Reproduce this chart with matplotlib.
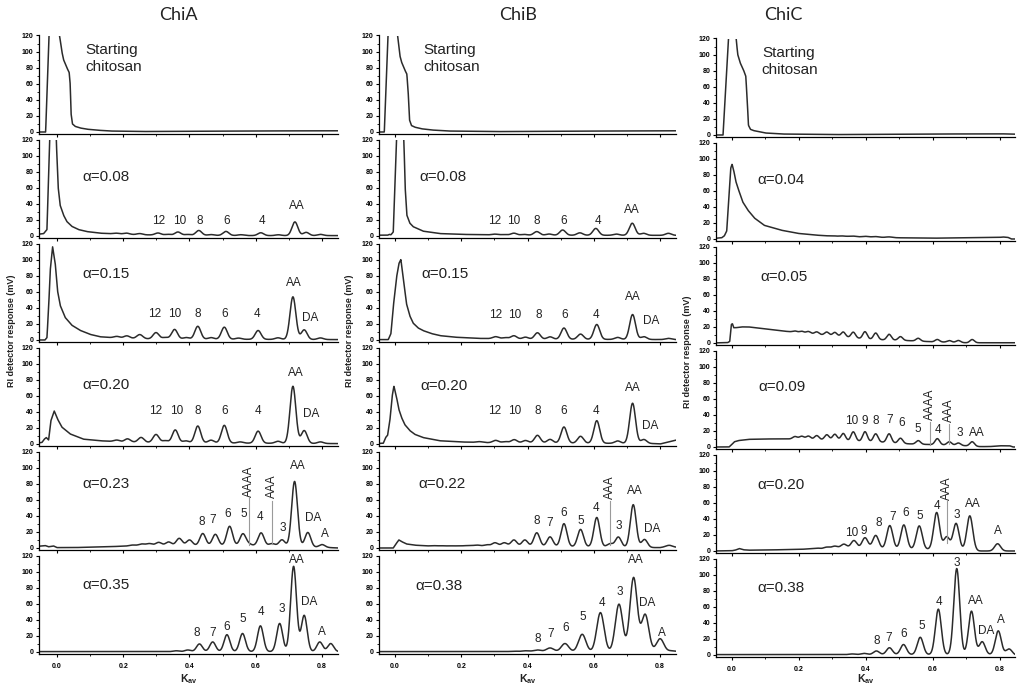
import numpy as np
import matplotlib.pyplot as plt
from matplotlib.ticker import MultipleLocator

plt.rcParams['font.family'] = ['Liberation Sans', 'DejaVu Sans']
plt.rcParams['mathtext.default'] = 'regular'

# ---------------- ChiA ----------------
# starting chitosan
a1_base_k = [-0.06, -0.034, -0.022, -0.012, 0.008, 0.015, 0.02, 0.03, 0.037, 0.04, 0.043, 0.047,
             0.055, 0.07, 0.09, 0.12, 0.16, 0.25, 0.4, 0.6, 0.85]
a1_base_y = [0, 0, 140, 170, 120, 100, 90, 80, 74, 60, 22, 10, 7, 5, 3.5, 2.3, 1.2, 0.6, 0.8, 1.3, 1.5]
a1_pk_k = []
a1_pk_h = []
a1_labels = []
a1_marks = []

# alpha = 0.08
a2_base_k = [-0.06, -0.04, -0.03, -0.012, -0.002, 0.004, 0.01, 0.02, 0.03, 0.045, 0.065, 0.09,
             0.13, 0.18, 0.25, 0.35, 0.6, 0.85]
a2_base_y = [2, 3, 8, 250, 120, 60, 38, 26, 18, 12, 8, 5.5, 3.5, 2.5, 1.5, 1.0, 0.5, 0.5]
a2_pk_k = [0.18, 0.21, 0.25, 0.305, 0.335, 0.365, 0.395, 0.428, 0.465, 0.51, 0.555, 0.615, 0.668,
           0.718, 0.752, 0.795]
a2_pk_h = [1, 1.5, 1.5, 2.5, 1, 4, 1, 6, 1, 5, 1, 3.5, 1, 17, 4, 1.5]
a2_labels = [("12", 0.307, 19), ("10", 0.369, 19), ("8", 0.43, 19), ("6", 0.511, 19),
             ("4", 0.619, 19), ("AA", 0.723, 37.5)]
a2_marks = []

# alpha = 0.15
a3_base_k = [-0.06, -0.036, -0.03, -0.025, -0.02, -0.013, -0.005, 0.002, 0.01, 0.025, 0.045, 0.07,
             0.1, 0.13, 0.18, 0.3, 0.6, 0.85]
a3_base_y = [0, 0, 3, 40, 87, 116, 95, 61, 43, 28, 18.4, 12, 7, 4, 2.5, 1.2, 0.8, 0.5]
a3_pk_k = [0.181, 0.211, 0.25, 0.299, 0.327, 0.355, 0.39, 0.425, 0.465, 0.505, 0.548, 0.607, 0.667,
           0.712, 0.746, 0.795]
a3_pk_h = [2, 3, 5, 8, 2, 12, 2, 16, 2, 15, 1.5, 11, 2, 53, 12, 2]
a3_labels = [("12", 0.294, 32), ("10", 0.354, 32), ("8", 0.425, 32), ("6", 0.505, 32),
             ("4", 0.604, 32), ("AA", 0.714, 71), ("DA", 0.765, 27)]
a3_marks = []

# alpha = 0.20
a4_base_k = [-0.06, -0.045, -0.038, -0.032, -0.025, -0.018, -0.008, 0.002, 0.015, 0.04, 0.08, 0.13,
             0.2, 0.35, 0.6, 0.85]
a4_base_y = [1, 2, 6, 8, 5, 29, 41, 31, 21, 12.5, 6, 4, 2.5, 1.5, 1, 0.5]
a4_pk_k = [0.181, 0.213, 0.254, 0.299, 0.327, 0.357, 0.389, 0.425, 0.465, 0.505, 0.553, 0.607, 0.667,
           0.712, 0.746, 0.795]
a4_pk_h = [2, 4, 6, 10, 2.5, 16, 2.5, 21, 3.5, 22, 1.5, 15, 2.5, 71, 16, 2]
a4_labels = [("12", 0.299, 41), ("10", 0.362, 41), ("8", 0.425, 41), ("6", 0.505, 41),
             ("4", 0.607, 41), ("AA", 0.722, 88), ("DA", 0.767, 37)]
a4_marks = []

# alpha = 0.23
a5_base_k = [-0.06, -0.035, -0.025, -0.01, 0.0, 0.05, 0.15, 0.25, 0.35, 0.5, 0.6, 0.7, 0.78, 0.82, 0.85]
a5_base_y = [2, 3, 1.5, 2.5, 0.5, 0.5, 1.5, 3, 3, 3, 3, 2, 1, 0.5, 0]
a5_pk_k = [0.228, 0.256, 0.279, 0.307, 0.337, 0.369, 0.4, 0.44, 0.478, 0.521, 0.561, 0.578, 0.616,
           0.649, 0.679, 0.717, 0.757, 0.8]
a5_pk_h = [1, 2, 2.5, 4, 4.5, 9, 7, 15, 14, 24, 14.5, 2, 16, 3, 8, 81, 18, 3.5]
a5_labels = [("8", 0.436, 32), ("7", 0.471, 35), ("6", 0.516, 42), ("5", 0.563, 42), ("4", 0.612, 39),
             ("3", 0.681, 25), ("AA", 0.727, 102), ("DA", 0.772, 37), ("A", 0.807, 18)]
a5_marks = [("AAAA", 0.579, 4, 62, 64), ("AAA", 0.65, 5, 59, 62)]

# alpha = 0.35
a6_base_k = [-0.06, 0.85]
a6_base_y = [0.5, 0.5]
a6_pk_k = [0.36, 0.395, 0.43, 0.47, 0.513, 0.56, 0.614, 0.672, 0.714, 0.746, 0.793, 0.826]
a6_pk_h = [1, 2, 9.5, 12, 21, 22.5, 32, 35, 106, 45, 12, 10]
a6_labels = [("8", 0.423, 23), ("7", 0.47, 24), ("6", 0.513, 31), ("5", 0.56, 41), ("4", 0.617, 50),
             ("3", 0.679, 54), ("AA", 0.724, 115), ("DA", 0.761, 62.5), ("A", 0.8, 25)]
a6_marks = []

# ---------------- ChiB ----------------
b1_base_k = [-0.06, -0.032, -0.018, -0.005, 0.008, 0.015, 0.02, 0.03, 0.036, 0.04, 0.044, 0.05,
             0.06, 0.08, 0.11, 0.16, 0.3, 0.5, 0.85]
b1_base_y = [0, 0, 150, 165, 120, 95, 87, 77, 72, 50, 15, 8, 6, 4, 2.5, 1.2, 0.5, 1, 1.5]
b1_pk_k = []
b1_pk_h = []
b1_labels = []
b1_marks = []

b2_base_k = [-0.06, -0.022, -0.017, -0.012, -0.005, 0.016, 0.027, 0.031, 0.036, 0.045, 0.055, 0.085,
             0.135, 0.2, 0.35, 0.85]
b2_base_y = [1, 1, 2, 1.5, 5, 250, 120, 60, 26, 16, 11.6, 6, 3, 2, 1, 0.8]
b2_pk_k = [0.302, 0.33, 0.359, 0.39, 0.428, 0.465, 0.506, 0.558, 0.606, 0.668, 0.716, 0.75, 0.825]
b2_pk_h = [1, 0.8, 2.5, 1, 4.5, 1.5, 6.5, 3, 8.5, 1.5, 15, 2.5, 2.5]
b2_labels = [("12", 0.3, 19), ("10", 0.359, 19), ("8", 0.428, 19), ("6", 0.508, 19),
             ("4", 0.612, 19), ("AA", 0.714, 32)]
b2_marks = []

b3_base_k = [-0.06, -0.02, -0.012, -0.005, 0.005, 0.012, 0.018, 0.025, 0.035, 0.045, 0.055, 0.07,
             0.085, 0.11, 0.136, 0.18, 0.25, 0.4, 0.85]
b3_base_y = [0.5, 0.5, 8, 41, 78, 95, 100, 78, 45, 30, 21, 15, 11.7, 8, 5.4, 3.5, 2, 1, 0.5]
b3_pk_k = [0.304, 0.333, 0.359, 0.394, 0.43, 0.468, 0.51, 0.56, 0.609, 0.672, 0.717, 0.751, 0.825]
b3_pk_h = [2.5, 1.5, 4, 2.5, 8, 3, 14, 6.5, 18.5, 2.5, 31, 3.5, 1.5]
b3_labels = [("12", 0.304, 31.7), ("10", 0.362, 31.7), ("8", 0.433, 31.7), ("6", 0.511, 31.7),
             ("4", 0.606, 31.7), ("AA", 0.719, 53), ("DA", 0.773, 24)]
b3_marks = []

b4_base_k = [-0.06, -0.035, -0.028, -0.022, -0.015, -0.008, -0.003, 0.005, 0.012, 0.02, 0.03, 0.045,
             0.06, 0.085, 0.135, 0.2, 0.3, 0.6, 0.78, 0.8, 0.83, 0.85]
b4_base_y = [0.5, 1, 8, 11, 30, 60, 72, 58, 43, 33, 24, 16.7, 12, 8, 4, 2.5, 1.5, 1, 0.5, 0, 3, 5]
b4_pk_k = [0.255, 0.304, 0.333, 0.36, 0.394, 0.43, 0.468, 0.51, 0.56, 0.609, 0.672, 0.717, 0.751]
b4_pk_h = [1, 3, 1.5, 4, 3, 9.5, 4.5, 20, 8.5, 28, 3, 50, 5]
b4_labels = [("12", 0.302, 41), ("10", 0.36, 41), ("8", 0.43, 41), ("6", 0.51, 41),
             ("4", 0.606, 41), ("AA", 0.719, 70), ("DA", 0.77, 22)]
b4_marks = []

b5_base_k = [-0.06, -0.005, 0.003, 0.012, 0.02, 0.035, 0.06, 0.1, 0.2, 0.4, 0.6, 0.7, 0.77, 0.8, 0.83, 0.85]
b5_base_y = [0, 0, 5, 10, 8, 5, 3.5, 2.5, 2, 2, 1.5, 1, 0.5, 0.5, 2, 1]
b5_pk_k = [0.115, 0.14, 0.165, 0.186, 0.21, 0.23, 0.25, 0.277, 0.302, 0.33, 0.359, 0.392, 0.428, 0.468,
           0.51, 0.56, 0.609, 0.649, 0.674, 0.719, 0.753, 0.825]
b5_pk_h = [0.5, 0.5, 0.5, 0.5, 0.8, 1, 1.5, 2, 4.5, 4.5, 8, 8, 17, 12, 28.5, 21.5, 36.5, 4, 12.5, 53, 10, 1.5]
b5_labels = [("8", 0.428, 33), ("7", 0.466, 31), ("6", 0.51, 44), ("5", 0.56, 34), ("4", 0.606, 50),
             ("3", 0.674, 27), ("AA", 0.724, 70.5), ("DA", 0.775, 23.6)]
b5_marks = [("AAA", 0.649, 4, 59, 61)]

b6_base_k = [-0.06, 0.85]
b6_base_y = [0.5, 0.5]
b6_pk_k = [0.36, 0.395, 0.43, 0.468, 0.513, 0.565, 0.62, 0.676, 0.72, 0.755, 0.8, 0.835]
b6_pk_h = [0.5, 1, 2, 4.5, 10, 21.5, 48.5, 59, 92, 46, 16, 1]
b6_labels = [("8", 0.43, 16.7), ("7", 0.47, 22), ("6", 0.515, 30), ("5", 0.568, 44), ("4", 0.626, 61.5),
             ("3", 0.677, 74), ("AA", 0.728, 114), ("DA", 0.762, 61.5), ("A", 0.805, 24)]
b6_marks = []

# ---------------- ChiC ----------------
c1_base_k = [-0.06, -0.026, -0.006, 0.004, 0.013, 0.018, 0.025, 0.035, 0.042, 0.046, 0.05, 0.056,
             0.065, 0.1, 0.15, 0.3, 0.5, 0.8, 0.85]
c1_base_y = [0, 0, 150, 160, 120, 100, 90, 81, 73, 45, 12, 7, 5.5, 2.5, 1.2, 0.5, 1, 1.5, 1]
c1_pk_k = []
c1_pk_h = []
c1_labels = []
c1_marks = []

c2_base_k = [-0.06, -0.03, -0.022, -0.015, -0.007, -0.003, 0.001, 0.006, 0.012, 0.018, 0.033, 0.048,
             0.068, 0.097, 0.147, 0.197, 0.246, 0.296, 0.35, 0.4, 0.5, 0.6, 0.7, 0.8, 0.81, 0.825,
             0.835, 0.85]
c2_base_y = [0.5, 1.5, 4, 10, 60, 88, 93, 85, 72, 64, 46, 36, 26, 17, 11, 7, 5, 3.5, 3, 2.5, 1.5, 1,
             1.5, 2, 2.5, 2, 0, 0]
c2_pk_k = [0.3, 0.33, 0.36, 0.4, 0.43, 0.47]
c2_pk_h = [0.6, 0.6, 0.8, 0.8, 0.8, 0.8]
c2_labels = []
c2_marks = []

c3_base_k = [-0.06, -0.012, -0.006, -0.001, 0.002, 0.006, 0.012, 0.03, 0.05, 0.15, 0.2, 0.25, 0.3,
             0.35, 0.4, 0.45, 0.5, 0.55, 0.6, 0.65, 0.7, 0.85]
c3_base_y = [0, 0.5, 2, 23, 24, 19, 19, 20, 20, 15, 13, 11, 9, 7, 5, 4, 3.5, 2.5, 1.5, 1, 0.3, 0.3]
c3_pk_k = [0.189, 0.209, 0.229, 0.254, 0.284, 0.308, 0.333, 0.363, 0.398, 0.43, 0.47, 0.504, 0.557,
           0.614, 0.65, 0.677, 0.718]
c3_pk_h = [1.5, 2, 2.5, 3, 4, 4.5, 6, 7, 9, 8, 7, 4.5, 3.5, 3, 2, 2.5, 4]
c3_labels = []
c3_marks = []

c4_base_k = [-0.06, -0.008, 0.0, 0.008, 0.02, 0.05, 0.1, 0.2, 0.3, 0.35, 0.4, 0.45, 0.5, 0.55, 0.6,
             0.65, 0.7, 0.74, 0.77, 0.8, 0.83, 0.84, 0.85]
c4_base_y = [0, 0, 3, 6.5, 8, 9.5, 10, 10, 8.5, 7.5, 7, 6, 4.5, 3.5, 3, 2.5, 1.5, 0.5, 0.5, 1.5, 1.5, 0, 0]
c4_pk_k = [0.189, 0.209, 0.229, 0.254, 0.284, 0.308, 0.333, 0.363, 0.398, 0.43, 0.47, 0.504, 0.557,
           0.614, 0.65, 0.677, 0.718]
c4_pk_h = [3, 3.5, 4, 5, 6.5, 7.5, 9, 11.5, 12, 10, 11, 6.5, 4.5, 7.5, 4, 3, 5.5]
c4_labels = [("10", 0.357, 32), ("9", 0.396, 32), ("8", 0.431, 32), ("7", 0.471, 34), ("6", 0.507, 30),
             ("5", 0.557, 22.6), ("4", 0.615, 21), ("3", 0.68, 17.6), ("AA", 0.731, 17.6)]
c4_marks = [("AAAA", 0.593, 3, 31, 33), ("AAA", 0.65, 4, 29, 31)]

c5_base_k = [-0.06, 0.0, 0.01, 0.023, 0.035, 0.05, 0.1, 0.2, 0.3, 0.4, 0.5, 0.6, 0.7, 0.74, 0.85]
c5_base_y = [0, 0.3, 1, 3, 1.5, 1, 1.2, 2, 3, 3, 2.5, 2, 1, 0, 0]
c5_pk_k = [0.23, 0.254, 0.284, 0.308, 0.335, 0.365, 0.398, 0.43, 0.472, 0.514, 0.56, 0.612, 0.642,
           0.67, 0.711, 0.794]
c5_pk_h = [0.5, 1, 2, 3, 5.5, 10, 13.5, 16.5, 29, 30, 29, 46, 16, 33, 43, 9]
c5_labels = [("10", 0.357, 22), ("9", 0.395, 25), ("8", 0.438, 35), ("7", 0.48, 42), ("6", 0.52, 47),
             ("5", 0.562, 43), ("4", 0.612, 56.5), ("3", 0.672, 45), ("AA", 0.721, 59), ("A", 0.794, 25)]
c5_marks = [("AAA", 0.644, 10, 62, 64)]

c6_base_k = [-0.06, 0.835, 0.845, 0.85]
c6_base_y = [0.5, 0.5, 0, 0]
c6_pk_k = [0.36, 0.395, 0.432, 0.471, 0.513, 0.563, 0.617, 0.672, 0.716, 0.748, 0.796, 0.828]
c6_pk_h = [0.8, 1.5, 4.5, 8.5, 12.5, 21.5, 56.5, 107, 54, 16, 29.5, 7]
c6_labels = [("8", 0.434, 18), ("7", 0.47, 20.7), ("6", 0.515, 25.6), ("5", 0.569, 36), ("4", 0.619, 66),
             ("3", 0.672, 115), ("AA", 0.729, 67), ("DA", 0.759, 30), ("A", 0.803, 43)]
c6_marks = []

# panel captions (text, x, y)
chia_caps = [("Starting\nchitosan", 0.086, 91), ("α=0.08", 0.076, 73.5), ("α=0.15", 0.078, 82),
             ("α=0.20", 0.078, 73), ("α=0.23", 0.076, 79), ("α=0.35", 0.076, 83)]
chib_caps = [("Starting\nchitosan", 0.086, 91), ("α=0.08", 0.073, 73.5), ("α=0.15", 0.08, 82),
             ("α=0.20", 0.076, 72), ("α=0.22", 0.072, 79), ("α=0.38", 0.062, 82)]
chic_caps = [("Starting\nchitosan", 0.09, 91.5), ("α=0.04", 0.078, 73.4), ("α=0.05", 0.085, 82.6),
             ("α=0.09", 0.08, 75), ("α=0.20", 0.077, 82), ("α=0.38", 0.077, 83.5)]

enzymes = ["ChiA", "ChiB", "ChiC"]
peak_width = [[0.0088] * 6,
              [0.0088, 0.0088, 0.0088, 0.0088, 0.0088, 0.011],
              [0.0088, 0.0088, 0.0065, 0.0068, 0.0088, 0.0088]]

columns = [
    [(a1_base_k, a1_base_y, a1_pk_k, a1_pk_h, a1_labels, a1_marks),
     (a2_base_k, a2_base_y, a2_pk_k, a2_pk_h, a2_labels, a2_marks),
     (a3_base_k, a3_base_y, a3_pk_k, a3_pk_h, a3_labels, a3_marks),
     (a4_base_k, a4_base_y, a4_pk_k, a4_pk_h, a4_labels, a4_marks),
     (a5_base_k, a5_base_y, a5_pk_k, a5_pk_h, a5_labels, a5_marks),
     (a6_base_k, a6_base_y, a6_pk_k, a6_pk_h, a6_labels, a6_marks)],
    [(b1_base_k, b1_base_y, b1_pk_k, b1_pk_h, b1_labels, b1_marks),
     (b2_base_k, b2_base_y, b2_pk_k, b2_pk_h, b2_labels, b2_marks),
     (b3_base_k, b3_base_y, b3_pk_k, b3_pk_h, b3_labels, b3_marks),
     (b4_base_k, b4_base_y, b4_pk_k, b4_pk_h, b4_labels, b4_marks),
     (b5_base_k, b5_base_y, b5_pk_k, b5_pk_h, b5_labels, b5_marks),
     (b6_base_k, b6_base_y, b6_pk_k, b6_pk_h, b6_labels, b6_marks)],
    [(c1_base_k, c1_base_y, c1_pk_k, c1_pk_h, c1_labels, c1_marks),
     (c2_base_k, c2_base_y, c2_pk_k, c2_pk_h, c2_labels, c2_marks),
     (c3_base_k, c3_base_y, c3_pk_k, c3_pk_h, c3_labels, c3_marks),
     (c4_base_k, c4_base_y, c4_pk_k, c4_pk_h, c4_labels, c4_marks),
     (c5_base_k, c5_base_y, c5_pk_k, c5_pk_h, c5_labels, c5_marks),
     (c6_base_k, c6_base_y, c6_pk_k, c6_pk_h, c6_labels, c6_marks)],
]
captions = [chia_caps, chib_caps, chic_caps]


def trace(x, base_k, base_y, pk_k, pk_h, width):
    y = np.interp(x, base_k, base_y)
    for c, h in zip(pk_k, pk_h):
        y = y + h * np.exp(-0.5 * ((x - c) / width) ** 2)
    return y


# layout in pixels
W, H = 1024, 692
col_left = [39, 379, 716]
col_width = [299, 297, 299]
col_zero = [132, 132, 135]
col_xlim = [(-0.054, 0.848), (-0.048, 0.848), (-0.047, 0.846)]
title_x = [178, 518, 783]
ylab_pos = [(12, 331), (349, 331), (688, 352)]
pitch = 104

fig = plt.figure(figsize=(W / 100, H / 100), dpi=100)
line_col = '#2b2b2b'

for c in range(3):
    for r in range(6):
        zero = col_zero[c] + pitch * r
        bottom = zero + 2
        top = zero - 96.5
        ax = fig.add_axes([col_left[c] / W, 1 - bottom / H, col_width[c] / W, (bottom - top) / H])
        base_k, base_y, pk_k, pk_h, labels, marks = columns[c][r]
        x = np.linspace(col_xlim[c][0], col_xlim[c][1], 2000)
        y = trace(x, base_k, base_y, pk_k, pk_h, peak_width[c][r])
        ax.plot(x, y, color=line_col, lw=1.1)
        ax.set_xlim(*col_xlim[c])
        ax.set_ylim(-2.5, 120)

        for txt, kx, ky in labels:
            ax.text(kx, ky, txt, ha='center', va='center', fontsize=8.5, color='#222222')
        for txt, kx, y0, y1, ty in marks:
            ax.plot([kx, kx], [y0, y1], color='#9a9a9a', lw=0.8)
            ax.text(kx, ty, txt, rotation=90, ha='center', va='bottom', fontsize=8.5, color='#222222')

        cap, cx, cy = captions[c][r]
        ax.text(cx, cy, cap, ha='left', va='center', fontsize=11, color='#222222', linespacing=1.25)

        for side in ['top', 'right']:
            ax.spines[side].set_visible(False)
        ax.spines['left'].set_linewidth(0.9)
        ax.spines['bottom'].set_linewidth(0.9)
        ax.yaxis.set_major_locator(MultipleLocator(20))
        ax.yaxis.set_minor_locator(MultipleLocator(10))
        ax.xaxis.set_major_locator(MultipleLocator(0.2))
        ax.xaxis.set_minor_locator(MultipleLocator(0.1))
        ax.tick_params(axis='both', which='major', direction='out', length=2.5, width=0.8,
                       labelsize=5, pad=1.5)
        ax.tick_params(axis='both', which='minor', direction='out', length=1.5, width=0.6)
        ax.set_yticks(range(0, 121, 20))
        ax.set_yticklabels([str(v) for v in range(0, 121, 20)], fontweight='bold')
        if r < 5:
            ax.tick_params(axis='x', labelbottom=False)
        else:
            ax.set_xticks([0.0, 0.2, 0.4, 0.6, 0.8])
            ax.set_xticklabels(["0.0", "0.2", "0.4", "0.6", "0.8"], fontweight='bold')
            ax.tick_params(axis='x', pad=4)
        ax.patch.set_alpha(0)

    fig.text(title_x[c] / W, 1 - 15 / H, enzymes[c], ha='center', va='center', fontsize=13,
             family=['Lato', 'DejaVu Sans'], color='#222222')
    fig.text(ylab_pos[c][0] / W, 1 - ylab_pos[c][1] / H, "RI detector response (mV)", rotation=90,
             ha='center', va='center', fontsize=6.5, fontweight='bold', color='#222222')
    xc = col_left[c] + col_width[c] / 2
    fig.text(xc / W, 1 - 679 / H, r'K$_{av}$', ha='center', va='center', fontsize=7.5,
             fontweight='bold', color='#222222')

fig.savefig('out.png', dpi=100)
